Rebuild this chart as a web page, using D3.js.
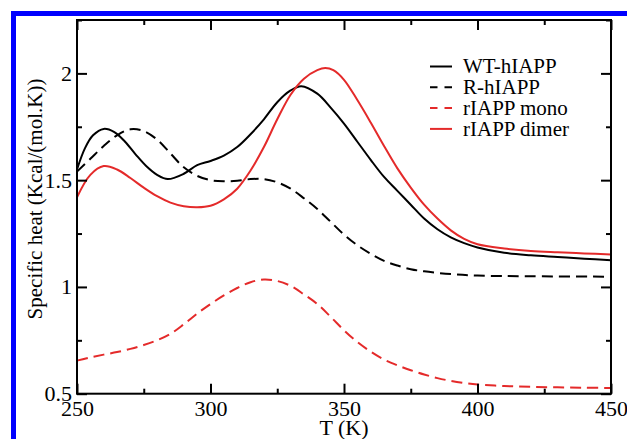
<!DOCTYPE html>
<html>
<head>
<meta charset="utf-8">
<script src="https://cdn.jsdelivr.net/npm/d3@7"></script>
<style>
  html, body { margin: 0; padding: 0; background: #fff; }
  svg { display: block; }
  svg text { font-family: "Liberation Serif", "Times New Roman", serif; fill: #000; }
</style>
</head>
<body>
<svg id="chart" width="627" height="439"></svg>
<script>
// Temperature grid (K) and specific heat curves (Kcal/(mol.K))
const tempWT = [250, 253, 256, 260, 264, 268, 272, 276, 280, 284, 290, 295, 300, 305, 310, 315, 320, 325, 330, 334, 340, 345, 350, 355, 360, 365, 370, 375, 380, 385, 390, 395, 400, 410, 420, 430, 440, 450];
const wtHIAPP = [1.55, 1.65, 1.71, 1.74, 1.725, 1.68, 1.62, 1.565, 1.525, 1.505, 1.53, 1.57, 1.59, 1.615, 1.655, 1.715, 1.785, 1.865, 1.92, 1.94, 1.905, 1.84, 1.765, 1.68, 1.595, 1.515, 1.45, 1.385, 1.32, 1.27, 1.232, 1.205, 1.185, 1.16, 1.148, 1.14, 1.132, 1.125];

const tempR = [250, 255, 260, 265, 270, 275, 280, 285, 290, 295, 300, 305, 310, 315, 320, 325, 330, 335, 340, 345, 350, 355, 360, 365, 370, 375, 380, 390, 400, 420, 450];
const rHIAPP = [1.54, 1.60, 1.66, 1.71, 1.738, 1.73, 1.69, 1.625, 1.56, 1.52, 1.5, 1.495, 1.497, 1.505, 1.505, 1.49, 1.46, 1.415, 1.365, 1.305, 1.245, 1.195, 1.155, 1.122, 1.1, 1.083, 1.073, 1.06, 1.053, 1.05, 1.048];

const tempMono = [250, 255, 260, 265, 270, 275, 280, 285, 290, 295, 300, 305, 310, 315, 320, 325, 330, 335, 340, 345, 350, 355, 360, 365, 370, 375, 380, 385, 390, 395, 400, 410, 420, 430, 440, 450];
const rIAPPMono = [0.655, 0.67, 0.683, 0.695, 0.71, 0.728, 0.75, 0.78, 0.825, 0.875, 0.92, 0.96, 0.995, 1.022, 1.035, 1.028, 1.005, 0.965, 0.92, 0.86, 0.797, 0.742, 0.697, 0.66, 0.633, 0.61, 0.59, 0.573, 0.56, 0.55, 0.543, 0.536, 0.532, 0.53, 0.528, 0.527];

const tempDimer = [250, 255, 260, 265, 270, 275, 280, 285, 290, 295, 300, 305, 310, 315, 320, 325, 330, 335, 340, 343, 346, 350, 355, 360, 365, 370, 375, 380, 385, 390, 395, 400, 410, 420, 430, 440, 450];
const rIAPPDimer = [1.42, 1.525, 1.566, 1.55, 1.51, 1.465, 1.425, 1.395, 1.378, 1.373, 1.38, 1.41, 1.46, 1.545, 1.655, 1.785, 1.9, 1.975, 2.015, 2.025, 2.015, 1.97, 1.875, 1.77, 1.66, 1.555, 1.465, 1.385, 1.32, 1.265, 1.225, 1.2, 1.18, 1.168, 1.162, 1.157, 1.152];

// Axis ticks
const xMajorTicks = [250, 300, 350, 400, 450];
const xMinorTicks = [275, 325, 375, 425];
const yMajorTicks = [0.5, 1, 1.5, 2];
const yMinorTicks = [0.75, 1.25, 1.75, 2.25];

const seriesNames = ["WT-hIAPP", "R-hIAPP", "rIAPP mono", "rIAPP dimer"];
const seriesColors = ["#000000", "#000000", "#e42a2a", "#e42a2a"];
const seriesDashed = [false, true, true, false];

const series = [
  { temps: tempWT, values: wtHIAPP },
  { temps: tempR, values: rHIAPP },
  { temps: tempMono, values: rIAPPMono },
  { temps: tempDimer, values: rIAPPDimer }
];

const serifFont = '"Liberation Serif", "Times New Roman", serif';

const svg = d3.select("#chart");
const plot = { left: 77, right: 611, top: 20, bottom: 393.7 };

const x = d3.scaleLinear().domain([250, 450]).range([plot.left, plot.right]);
const y = d3.scaleLinear().domain([0.5, 2.25]).range([plot.bottom, plot.top]);

// Blue frame along the top and left edges
svg.append("rect").attr("x", 11).attr("y", 11).attr("width", 616).attr("height", 5).attr("fill", "#0000ff");
svg.append("rect").attr("x", 11).attr("y", 11).attr("width", 5).attr("height", 428).attr("fill", "#0000ff");

// Curves
const line = d3.line()
  .x(d => x(d[0]))
  .y(d => y(d[1]))
  .curve(d3.curveCatmullRom.alpha(0.5));

series.forEach((s, i) => {
  const pts = s.temps.map((t, j) => [t, s.values[j]]);
  svg.append("path")
    .datum(pts)
    .attr("d", line)
    .attr("fill", "none")
    .attr("stroke", seriesColors[i])
    .attr("stroke-width", 2)
    .attr("stroke-dasharray", seriesDashed[i] ? "11,6" : null);
});

// Axes with inward ticks on all four sides
function styleAxis(g) {
  g.attr("font-family", serifFont);
  g.select(".domain").remove();
  g.selectAll(".tick line").attr("stroke", "#000").attr("stroke-width", 2);
  g.selectAll("text").attr("font-family", serifFont).attr("font-size", 22).attr("fill", "#000");
}

svg.append("g").attr("transform", `translate(0,${plot.bottom})`)
  .call(d3.axisBottom(x).tickValues(xMajorTicks).tickSize(-10).tickSizeOuter(0).tickPadding(7).tickFormat(d3.format("d")))
  .call(styleAxis);
svg.append("g").attr("transform", `translate(0,${plot.bottom})`)
  .call(d3.axisBottom(x).tickValues(xMinorTicks).tickSize(-5).tickSizeOuter(0).tickFormat(""))
  .call(styleAxis);
svg.append("g").attr("transform", `translate(0,${plot.top})`)
  .call(d3.axisTop(x).tickValues(xMajorTicks).tickSize(-10).tickSizeOuter(0).tickFormat(""))
  .call(styleAxis);
svg.append("g").attr("transform", `translate(0,${plot.top})`)
  .call(d3.axisTop(x).tickValues(xMinorTicks).tickSize(-5).tickSizeOuter(0).tickFormat(""))
  .call(styleAxis);

svg.append("g").attr("transform", `translate(${plot.left},0)`)
  .call(d3.axisLeft(y).tickValues(yMajorTicks).tickSize(-10).tickSizeOuter(0).tickPadding(5).tickFormat(d => String(d)))
  .call(styleAxis);
svg.append("g").attr("transform", `translate(${plot.left},0)`)
  .call(d3.axisLeft(y).tickValues(yMinorTicks).tickSize(-5).tickSizeOuter(0).tickFormat(""))
  .call(styleAxis);
svg.append("g").attr("transform", `translate(${plot.right},0)`)
  .call(d3.axisRight(y).tickValues(yMajorTicks).tickSize(-10).tickSizeOuter(0).tickFormat(""))
  .call(styleAxis);
svg.append("g").attr("transform", `translate(${plot.right},0)`)
  .call(d3.axisRight(y).tickValues(yMinorTicks).tickSize(-5).tickSizeOuter(0).tickFormat(""))
  .call(styleAxis);

// Plot frame
svg.append("rect")
  .attr("x", plot.left).attr("y", plot.top)
  .attr("width", plot.right - plot.left).attr("height", plot.bottom - plot.top)
  .attr("fill", "none").attr("stroke", "#000").attr("stroke-width", 2);

// Axis titles
svg.append("text")
  .attr("x", (plot.left + plot.right) / 2).attr("y", 434.5)
  .attr("text-anchor", "middle")
  .attr("font-family", serifFont).attr("font-size", 22)
  .text("T (K)");
svg.append("text")
  .attr("transform", "translate(42,199) rotate(-90)")
  .attr("text-anchor", "middle")
  .attr("font-family", serifFont).attr("font-size", 21)
  .text("Specific heat (Kcal/(mol.K))");

// Legend
const legend = svg.append("g").attr("transform", "translate(430,66.5)");
seriesNames.forEach((name, i) => {
  const row = legend.append("g").attr("transform", `translate(0,${i * 20.8})`);
  row.append("line")
    .attr("x1", 0).attr("x2", 22).attr("y1", 0).attr("y2", 0)
    .attr("stroke", seriesColors[i]).attr("stroke-width", 2)
    .attr("stroke-dasharray", seriesDashed[i] ? "7.5,7" : null);
  row.append("text")
    .attr("x", 33).attr("y", 0).attr("dy", "0.33em")
    .attr("font-family", serifFont).attr("font-size", 21)
    .text(name);
});
</script>
</body>
</html>
